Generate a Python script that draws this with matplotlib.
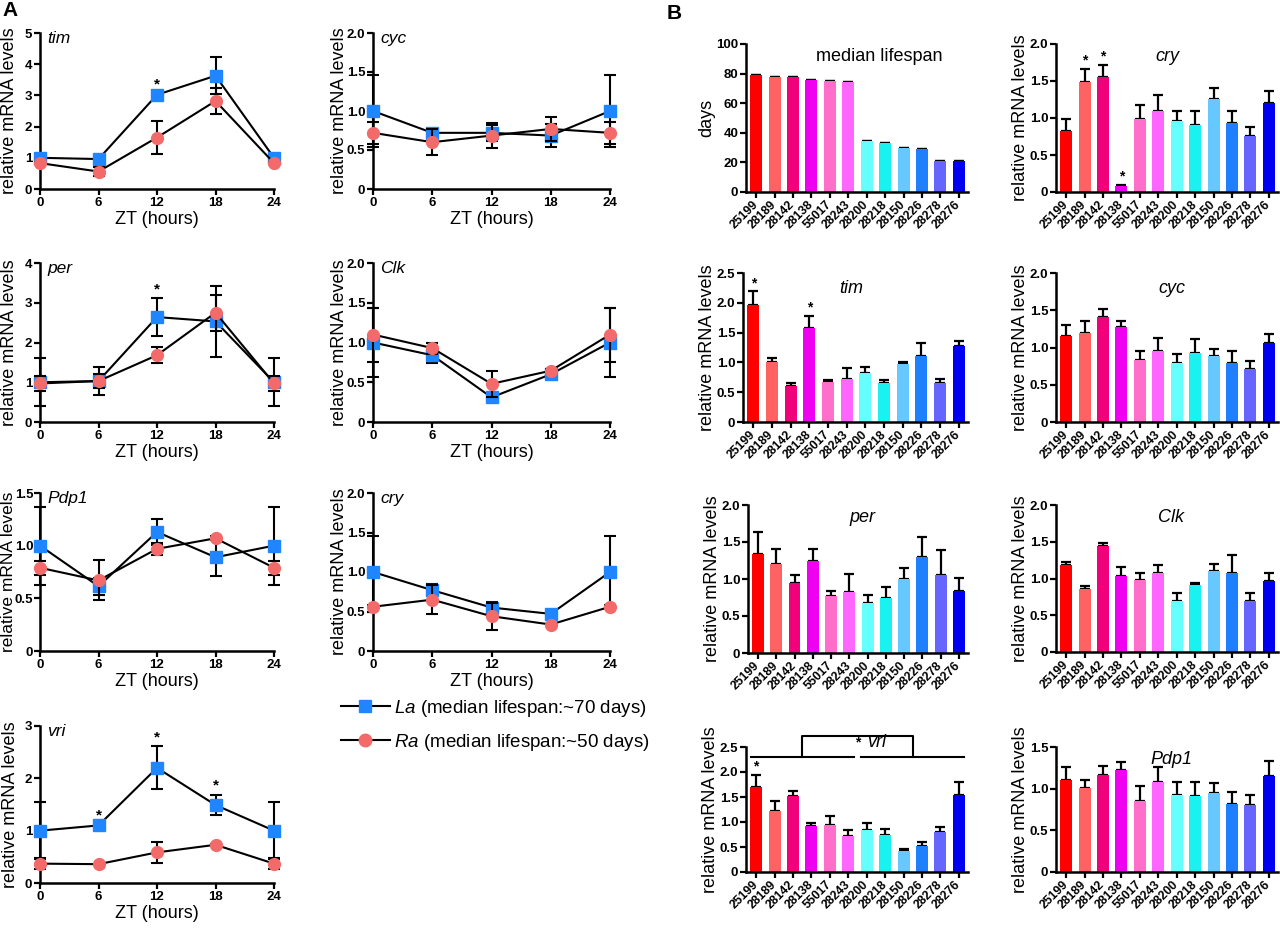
import matplotlib
matplotlib.use('Agg')
import matplotlib.pyplot as plt
import numpy as np
from matplotlib.lines import Line2D

plt.rcParams['font.family'] = ['Liberation Sans', 'DejaVu Sans']
plt.rcParams['mathtext.fontset'] = 'custom'
plt.rcParams['mathtext.rm'] = 'Liberation Sans'
plt.rcParams['mathtext.it'] = 'Liberation Sans:italic'

# ---------------- data : panel A (time course) ----------------
ZT = [0, 6, 12, 18, 24]

tim_La = [1.00, 0.96, 3.02, 3.63, 1.00]
tim_La_err = [0.12, 0.05, 0.05, 0.60, 0.12]
tim_Ra = [0.83, 0.56, 1.65, 2.82, 0.83]
tim_Ra_err = [0.04, 0.13, 0.52, 0.41, 0.04]

cyc_La = [1.00, 0.72, 0.72, 0.685, 1.00]
cyc_La_err = [0.46, 0.05, 0.10, 0.15, 0.46]
cyc_Ra = [0.72, 0.60, 0.685, 0.77, 0.72]
cyc_Ra_err = [0.14, 0.17, 0.16, 0.15, 0.14]

per_La = [1.00, 1.03, 2.64, 2.53, 1.00]
per_La_err = [0.60, 0.35, 0.48, 0.89, 0.60]
per_Ra = [0.97, 1.03, 1.68, 2.75, 0.97]
per_Ra_err = [0.18, 0.18, 0.20, 0.45, 0.18]

Clk_La = [1.00, 0.84, 0.31, 0.60, 1.00]
Clk_La_err = [0.43, 0.10, 0.03, 0.02, 0.43]
Clk_Ra = [1.10, 0.93, 0.48, 0.645, 1.10]
Clk_Ra_err = [0.34, 0.07, 0.16, 0.02, 0.34]

Pdp1_La = [1.00, 0.615, 1.13, 0.89, 1.00]
Pdp1_La_err = [0.37, 0.08, 0.12, 0.18, 0.37]
Pdp1_Ra = [0.79, 0.67, 0.97, 1.07, 0.79]
Pdp1_Ra_err = [0.065, 0.19, 0.06, 0.02, 0.065]

cry_La = [1.00, 0.77, 0.55, 0.47, 1.00]
cry_La_err = [0.45, 0.08, 0.07, 0.02, 0.45]
cry_Ra = [0.56, 0.65, 0.44, 0.335, 0.56]
cry_Ra_err = [0.02, 0.18, 0.17, 0.01, 0.02]

vri_La = [1.00, 1.10, 2.20, 1.49, 1.00]
vri_La_err = [0.54, 0.03, 0.41, 0.20, 0.54]
vri_Ra = [0.37, 0.36, 0.585, 0.73, 0.37]
vri_Ra_err = [0.10, 0.01, 0.20, 0.01, 0.10]

# ---------------- data : panel B (strains) ----------------
strains = ['25199', '28189', '28142', '28138', '55017', '28243',
           '28200', '28218', '28150', '28226', '28278', '28276']
strain_colors = ['#FF0000', '#FF6262', '#F0007A', '#F000F0', '#FF6ECB', '#FF66FF',
                 '#66FFFF', '#1AF2F2', '#66C8FF', '#1E7FFF', '#6666FF', '#0000F0']

lifespan = [79, 78, 78, 76, 75, 74, 34.5, 33, 30, 29, 21, 21]

cryB = [0.82, 1.48, 1.56, 0.08, 0.98, 1.09, 0.955, 0.91, 1.25, 0.93, 0.75, 1.20]
cryB_sem = [0.16, 0.18, 0.16, 0.015, 0.19, 0.22, 0.145, 0.19, 0.15, 0.17, 0.13, 0.16]

timB = [1.955, 1.00, 0.607, 1.58, 0.674, 0.725, 0.815, 0.646, 0.97, 1.10, 0.646, 1.275]
timB_sem = [0.235, 0.08, 0.053, 0.20, 0.036, 0.175, 0.105, 0.054, 0.04, 0.23, 0.074, 0.09]

cycB = [1.15, 1.19, 1.41, 1.28, 0.83, 0.95, 0.79, 0.92, 0.89, 0.795, 0.706, 1.06]
cycB_sem = [0.15, 0.17, 0.11, 0.07, 0.12, 0.18, 0.125, 0.19, 0.09, 0.155, 0.114, 0.12]

perB = [1.34, 1.20, 0.95, 1.25, 0.77, 0.82, 0.68, 0.75, 1.00, 1.30, 1.05, 0.84]
perB_sem = [0.29, 0.21, 0.11, 0.16, 0.07, 0.25, 0.10, 0.14, 0.15, 0.27, 0.34, 0.18]

ClkB = [1.18, 0.86, 1.44, 1.03, 0.98, 1.07, 0.70, 0.91, 1.10, 1.08, 0.70, 0.96]
ClkB_sem = [0.05, 0.04, 0.04, 0.12, 0.09, 0.11, 0.10, 0.03, 0.10, 0.24, 0.10, 0.11]

vriB = [1.70, 1.22, 1.52, 0.93, 0.95, 0.72, 0.84, 0.75, 0.42, 0.52, 0.80, 1.55]
vriB_sem = [0.25, 0.20, 0.11, 0.05, 0.17, 0.13, 0.14, 0.11, 0.04, 0.08, 0.11, 0.25]

Pdp1B = [1.10, 1.01, 1.16, 1.22, 0.85, 1.08, 0.93, 0.91, 0.95, 0.82, 0.80, 1.15]
Pdp1B_sem = [0.16, 0.09, 0.11, 0.10, 0.18, 0.18, 0.15, 0.17, 0.12, 0.14, 0.13, 0.18]

BLUE = '#1F86FF'
RED = '#F26A6A'

W, H = 1280, 933
fig = plt.figure(figsize=(W / 100, H / 100), dpi=100)


def ax_px(l, t, r, b):
    a = fig.add_axes([l / W, 1 - b / H, (r - l) / W, (b - t) / H])
    a._wpx = r - l
    return a


def place_ylabel(ax, dx_px):
    ax.yaxis.label.set_va('center')
    ax.yaxis.set_label_coords(dx_px / ax._wpx, 0.5)


def style(ax):
    for s in ['top', 'right']:
        ax.spines[s].set_visible(False)
    for s in ['left', 'bottom']:
        ax.spines[s].set_linewidth(1.8)
    ax.tick_params(width=1.6, length=4, labelsize=9.5, direction='out', pad=1.5)


def line_panel(ax, La, La_err, Ra, Ra_err, ymax, yticks, ylabels, title, stars, ylx,
               ylab_size=13):
    style(ax)
    ax.errorbar(ZT, La, yerr=La_err, color='black', lw=1.5, ecolor='black', elinewidth=1.5,
                capsize=4, capthick=1.5, marker='s', ms=8.5, mfc=BLUE, mec=BLUE,
                zorder=3, clip_on=False)
    ax.errorbar(ZT, Ra, yerr=Ra_err, color='black', lw=1.5, ecolor='black', elinewidth=1.5,
                capsize=4, capthick=1.5, marker='o', ms=8.5, mfc=RED, mec=RED,
                zorder=4, clip_on=False)
    ax.set_xlim(0, 24)
    ax.set_ylim(0, ymax)
    ax.set_xticks(ZT, [str(z) for z in ZT], fontweight='bold')
    ax.set_yticks(yticks, ylabels, fontweight='bold')
    ax.set_xlabel('ZT (hours)', fontsize=13, labelpad=2)
    ax.set_ylabel('relative mRNA levels', fontsize=ylab_size)
    place_ylabel(ax, ylx)
    ax.text(0.03, 1.01, title, transform=ax.transAxes, style='italic', fontsize=12.5,
            va='top', ha='left')
    for i in stars:
        top = La[i] + La_err[i]
        ax.text(ZT[i], top + ymax * 0.012, '*', ha='center', va='bottom',
                fontsize=11, fontweight='bold')


def bar_panel(ax, vals, sems, ymax, yticks, ylabels, title, tx, ty, stars=(),
              ylabel='relative mRNA levels', title_italic=True):
    style(ax)
    x = np.arange(len(strains))
    ax.errorbar(x, vals, yerr=[np.zeros(len(vals)), sems], fmt='none', ecolor='black',
                elinewidth=1.6, capsize=3.5, capthick=1.6, zorder=1)
    ax.bar(x, vals, width=0.65, color=strain_colors, zorder=2)
    ax.set_xlim(-0.55, 11.5)
    ax.set_ylim(0, ymax)
    ax.set_xticks(x, strains, rotation=45, ha='right', va='center', rotation_mode='anchor',
                  fontweight='bold', fontsize=8.8)
    ax.tick_params(axis='x', pad=4)
    ax.set_yticks(yticks, ylabels, fontweight='bold')
    ax.set_ylabel(ylabel, fontsize=13, labelpad=0.5)
    ax.text(tx, ty, title, transform=ax.transAxes, style='italic' if title_italic else 'normal',
            fontsize=13, ha='center', va='top')
    for i in stars:
        ax.text(x[i], vals[i] + sems[i] + ymax * 0.01, '*', ha='center', va='bottom',
                fontsize=10, fontweight='bold')
    return ax


# ---------------- panel A ----------------
L1, R1 = 40, 274
L2, R2 = 373, 610
rows = [(33, 189), (263, 422), (493, 651), (726, 883)]

ax = ax_px(L1, rows[0][0], R1, rows[0][1])
line_panel(ax, tim_La, tim_La_err, tim_Ra, tim_Ra_err, 5, [0, 1, 2, 3, 4, 5],
           ['0', '1', '2', '3', '4', '5'], 'tim', [2], -30)
ax = ax_px(L2, rows[0][0], R2, rows[0][1])
line_panel(ax, cyc_La, cyc_La_err, cyc_Ra, cyc_Ra_err, 2.0, [0, 0.5, 1.0, 1.5, 2.0],
           ['0', '0.5', '1.0', '1.5', '2.0'], 'cyc', [], -34)
ax = ax_px(L1, rows[1][0], R1, rows[1][1])
line_panel(ax, per_La, per_La_err, per_Ra, per_Ra_err, 4, [0, 1, 2, 3, 4],
           ['0', '1', '2', '3', '4'], 'per', [2], -30)
ax = ax_px(L2, rows[1][0], R2, rows[1][1])
line_panel(ax, Clk_La, Clk_La_err, Clk_Ra, Clk_Ra_err, 2.0, [0, 0.5, 1.0, 1.5, 2.0],
           ['0', '0.5', '1.0', '1.5', '2.0'], 'Clk', [], -34)
ax = ax_px(L1, rows[2][0], R1, rows[2][1])
line_panel(ax, Pdp1_La, Pdp1_La_err, Pdp1_Ra, Pdp1_Ra_err, 1.5, [0, 0.5, 1.0, 1.5],
           ['0', '0.5', '1.0', '1.5'], 'Pdp1', [], -31.5, ylab_size=12.5)
ax.tick_params(axis='y', pad=0.8)
ax = ax_px(L2, rows[2][0], R2, rows[2][1])
line_panel(ax, cry_La, cry_La_err, cry_Ra, cry_Ra_err, 2.0, [0, 0.5, 1.0, 1.5, 2.0],
           ['0', '0.5', '1.0', '1.5', '2.0'], 'cry', [], -34)
ax = ax_px(L1, rows[3][0], R1, rows[3][1])
line_panel(ax, vri_La, vri_La_err, vri_Ra, vri_Ra_err, 3, [0, 1, 2, 3],
           ['0', '1', '2', '3'], 'vri', [1, 2, 3], -29)

handles = [Line2D([], [], color='black', lw=1.5, marker='s', ms=9, mfc=BLUE, mec=BLUE),
           Line2D([], [], color='black', lw=1.5, marker='o', ms=9, mfc=RED, mec=RED)]
fig.legend(handles, [r'$\it{La}$ (median lifespan:~70 days)', r'$\it{Ra}$ (median lifespan:~50 days)'],
           loc='upper left', bbox_to_anchor=(324 / W, 1 - 681 / H), frameon=False,
           fontsize=13.5, handlelength=2.6, handletextpad=0.25, labelspacing=0.7)

fig.text(2 / W, 1 - 1 / H, 'A', fontsize=15, fontweight='bold', va='top', ha='left')
fig.text(667 / W, 1 - 4 / H, 'B', fontsize=15, fontweight='bold', va='top', ha='left')

# ---------------- panel B ----------------
BR1 = 968
BL2, BR2 = 1056, 1278
dec2 = [0, 0.5, 1.0, 1.5, 2.0]
dec2l = ['0', '0.5', '1.0', '1.5', '2.0']
dec25 = [0, 0.5, 1.0, 1.5, 2.0, 2.5]
dec25l = ['0', '0.5', '1.0', '1.5', '2.0', '2.5']

ax = ax_px(746, 44, BR1, 192)
bar_panel(ax, lifespan, [0] * 12, 100, [0, 20, 40, 60, 80, 100],
          ['0', '20', '40', '60', '80', '100'], 'median lifespan', 0.6, 0.97,
          ylabel='days', title_italic=False)
ax = ax_px(BL2, 44, BR2, 192)
bar_panel(ax, cryB, cryB_sem, 2.0, dec2, dec2l, 'cry', 0.5, 0.97, stars=[1, 2, 3])

ax = ax_px(743, 273, BR1, 422)
bar_panel(ax, timB, timB_sem, 2.5, dec25, dec25l, 'tim', 0.48, 0.95, stars=[0, 3])
ax = ax_px(BL2, 273, BR2, 422)
bar_panel(ax, cycB, cycB_sem, 2.0, dec2, dec2l, 'cyc', 0.52, 0.95)

ax = ax_px(748, 505, BR1, 653)
bar_panel(ax, perB, perB_sem, 2.0, dec2, dec2l, 'per', 0.52, 0.97)
ax = ax_px(BL2, 505, BR2, 652)
bar_panel(ax, ClkB, ClkB_sem, 2.0, dec2, dec2l, 'Clk', 0.52, 0.97)

ax = ax_px(746, 747, BR1, 872)
bar_panel(ax, vriB, vriB_sem, 2.5, dec25, dec25l, '', 0.5, 0.97, stars=[0])
# significance bracket between the two strain groups
ax.plot([-0.3, 5.3], [2.3, 2.3], color='black', lw=1.5, clip_on=False)
ax.plot([5.7, 11.3], [2.3, 2.3], color='black', lw=1.5, clip_on=False)
ax.plot([2.5, 2.5, 8.5, 8.5], [2.3, 2.72, 2.72, 2.3], color='black', lw=1.5, clip_on=False)
ax.text(5.5, 2.45, '*', ha='center', va='bottom', fontsize=10, fontweight='bold')
ax.text(6.0, 2.42, 'vri', ha='left', va='bottom', fontsize=13, style='italic')

ax = ax_px(BL2, 747, BR2, 872)
bar_panel(ax, Pdp1B, Pdp1B_sem, 1.5, [0, 0.5, 1.0, 1.5], ['0', '0.5', '1.0', '1.5'],
          'Pdp1', 0.52, 0.97)

fig.savefig('out.png', dpi=100, facecolor='white')
